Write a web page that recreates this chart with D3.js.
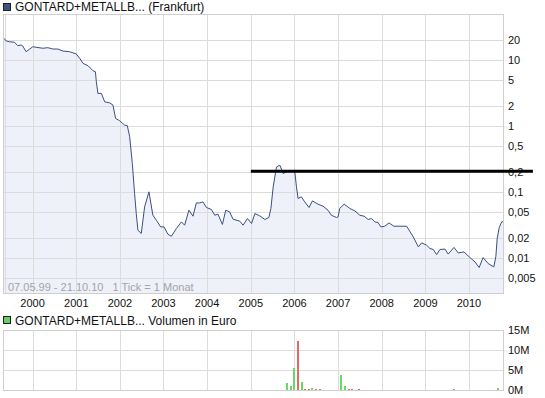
<!DOCTYPE html>
<html>
<head>
<meta charset="utf-8">
<style>
    body { margin: 0; background: #fff; }
    svg { display: block; font-family: Arial, "Liberation Sans", sans-serif; }
    .grid line { stroke: #dcdcdc; shape-rendering: crispEdges; }
    .tick-label { font-size: 11px; fill: #111; }
    .title { font-size: 12px; fill: #111; }
</style>
</head>
<body>
<svg width="545" height="398"></svg>
<script src="https://d3js.org/d3.v7.min.js"></script>
<script>
// price (EUR, Frankfurt)
const priceDates = [
    "1999-05-07","1999-05-26","1999-06-22","1999-08-03","1999-08-30","1999-09-27","1999-10-11","1999-11-08","1999-12-06",
    "2000-01-03","2000-03-27","2000-05-08","2000-06-19","2000-07-31","2000-09-11","2000-11-06",
    "2001-01-01","2001-01-29","2001-02-26","2001-04-09","2001-05-21","2001-06-10","2001-06-18","2001-07-01","2001-07-30",
    "2001-08-27","2001-10-07","2001-11-04","2001-11-26","2001-12-30",
    "2002-02-10","2002-03-04","2002-03-24","2002-04-15","2002-05-04","2002-05-18","2002-06-01","2002-06-29","2002-07-27",
    "2002-09-01","2002-10-04","2002-11-02","2002-12-08",
    "2003-01-05","2003-02-07","2003-03-08","2003-04-19","2003-05-31","2003-06-27","2003-08-02","2003-09-05","2003-10-03",
    "2003-10-30","2003-11-27","2003-12-26",
    "2004-02-06","2004-03-05","2004-04-01","2004-05-08","2004-06-05","2004-07-08","2004-08-05","2004-10-01","2004-10-28","2004-12-04",
    "2005-01-07","2005-02-04","2005-03-17","2005-04-28","2005-06-01","2005-06-18","2005-07-07","2005-08-04","2005-09-01",
    "2005-09-28","2005-11-09",
    "2006-01-04","2006-01-18","2006-01-31","2006-02-28","2006-03-28","2006-05-03","2006-06-01","2006-07-17","2006-08-28",
    "2006-10-09","2006-11-06","2006-12-18",
    "2007-01-01","2007-01-15","2007-02-21","2007-04-10","2007-05-21","2007-07-02","2007-08-07","2007-09-10","2007-10-08",
    "2007-11-05","2007-12-02","2007-12-25",
    "2008-01-27","2008-03-03","2008-04-12","2008-07-28","2008-09-22","2008-11-03","2008-12-01",
    "2009-01-11","2009-02-08","2009-03-08","2009-04-05","2009-05-03","2009-06-14","2009-07-11","2009-08-28","2009-10-03","2009-11-20",
    "2010-01-09","2010-02-20","2010-03-27","2010-04-29","2010-06-10","2010-07-28","2010-08-14","2010-08-25","2010-09-11","2010-10-01",
    "2010-10-21"
];
const priceValues = [
    21.2, 19.3, 18.8, 18.5, 16.4, 16.8, 16.2, 13.3, 14.5,
    15.8, 15.0, 15.3, 14.6, 14.6, 13.6, 13.3,
    12.3, 10.6, 8.87, 8.16, 6.85, 6.62, 4.67, 3.11, 3.11,
    2.32, 2.24, 2.07, 1.30, 1.20,
    1.03, 1.01, 0.686, 0.271, 0.0951, 0.0473, 0.0264, 0.0236, 0.0596,
    0.1007, 0.0446, 0.0375, 0.0297,
    0.0297, 0.0230, 0.0214, 0.0281, 0.0353, 0.0315, 0.0531, 0.0431, 0.0685,
    0.0685, 0.0709, 0.0584,
    0.0545, 0.0446, 0.0462, 0.0323, 0.0531, 0.0500, 0.0388, 0.0362, 0.0315, 0.0397,
    0.0334, 0.0473, 0.0436, 0.0384, 0.0412, 0.0564, 0.1197, 0.240, 0.255,
    0.191, 0.207,
    0.202, 0.1197, 0.0800, 0.0846, 0.0709, 0.0584, 0.0734, 0.0655, 0.0611,
    0.0531, 0.0446, 0.0412,
    0.0421, 0.0564, 0.0655, 0.0564, 0.0519, 0.0446, 0.0431, 0.0384, 0.0397,
    0.0353, 0.0346, 0.0297,
    0.0304, 0.0341, 0.0304, 0.0304, 0.0209, 0.0148, 0.0170,
    0.0157, 0.0140, 0.0135, 0.0113, 0.0135, 0.0137, 0.0115, 0.0145, 0.0120, 0.0124,
    0.0102, 0.00875, 0.00720, 0.0102, 0.00828, 0.00735, 0.0107, 0.0198, 0.0290, 0.0353,
    0.0360
];

// volume in million euro, "up" = green, "down" = red
const volDates = [
    "2005-10-28","2005-12-03","2005-12-26","2006-01-29","2006-03-06","2006-03-31","2006-05-04","2006-05-29",
    "2006-07-01","2006-08-04","2007-01-23","2007-02-28","2007-04-05","2007-04-27","2007-06-28","2009-08-29","2010-09-01"
];
const volValues = [1.8, 1.0, 5.6, 12.3, 2.1, 0.3, 0.3, 0.6, 0.3, 0.3, 3.8, 1.1, 0.3, 0.3, 0.3, 0.3, 0.6];
const volDir = ["up","up","up","down","up","down","down","up","down","down","up","up","down","down","down","up","up"];

// drawn resistance line
const markDates = ["2005-01-01", "2011-06-20"];
const markValue = 0.207;

const priceTicks = [20, 10, 5, 2, 1, 0.5, 0.2, 0.1, 0.05, 0.02, 0.01, 0.005];
const priceTickLabels = ["20","10","5","2","1","0,5","0,2","0,1","0,05","0,02","0,01","0,005"];
const volTicks = [0, 5, 10, 15];
const volTickLabels = ["0M","5M","10M","15M"];
const yearTicks = [2000,2001,2002,2003,2004,2005,2006,2007,2008,2009,2010];

const parse = d3.timeParse("%Y-%m-%d");
const svg = d3.select("svg");

const main = {left: 3, right: 503, top: 14, bottom: 293};
const vol = {left: 3, right: 503, top: 330, bottom: 390};

let x = d3.scaleTime()
    .domain([new Date(1999, 4, 7), new Date(2010, 9, 21)])
    .range([4, 504]);

let y = d3.scaleLog()
    .domain([0.005, 20])
    .range([278, 40]);

let yv = d3.scaleLinear()
    .domain([0, 15])
    .range([vol.bottom, vol.top]);

let prices = priceDates.map((d, i) => ({date: parse(d), value: priceValues[i]}));
let volumes = volDates.map((d, i) => ({date: parse(d), value: volValues[i], dir: volDir[i]}));

// ---- main panel
svg.append("rect")
    .attr("x", main.left + 0.5).attr("y", main.top + 0.5)
    .attr("width", main.right - main.left).attr("height", main.bottom - main.top)
    .attr("fill", "#fff")

svg.append("defs").append("clipPath").attr("id", "clip")
    .append("rect")
    .attr("x", main.left).attr("y", main.top)
    .attr("width", main.right - main.left).attr("height", main.bottom - main.top)

let area = d3.area()
    .x(d => x(d.date))
    .y0(main.bottom)
    .y1(d => y(d.value))

svg.append("path")
    .datum(prices)
    .attr("clip-path", "url(#clip)")
    .attr("fill", "#eef1fa")
    .attr("d", area)

let grid = svg.append("g").attr("class", "grid")

grid.selectAll(".hy")
    .data(priceTicks)
    .join("line")
    .attr("x1", main.left).attr("x2", main.right)
    .attr("y1", d => Math.round(y(d)) + 0.5)
    .attr("y2", d => Math.round(y(d)) + 0.5)

grid.selectAll(".vx")
    .data(yearTicks)
    .join("line")
    .attr("x1", d => Math.round(x(new Date(d, 0, 1))) + 0.5)
    .attr("x2", d => Math.round(x(new Date(d, 0, 1))) + 0.5)
    .attr("y1", main.top).attr("y2", main.bottom)

// second line at the start of the data
grid.append("line")
    .attr("x1", main.left + 2.5).attr("x2", main.left + 2.5)
    .attr("y1", main.top).attr("y2", main.bottom)

let line = d3.line()
    .x(d => x(d.date))
    .y(d => y(d.value))

svg.append("path")
    .datum(prices)
    .attr("clip-path", "url(#clip)")
    .attr("fill", "none")
    .attr("stroke", "#3b4f80")
    .attr("stroke-width", 1)
    .attr("d", line)

svg.append("rect")
    .attr("x", main.left + 0.5).attr("y", main.top + 0.5)
    .attr("width", main.right - main.left).attr("height", main.bottom - main.top)
    .attr("fill", "none")
    .attr("stroke", "#cfcfcf")
    .attr("shape-rendering", "crispEdges")

svg.selectAll(".plabel")
    .data(priceTicks)
    .join("text")
    .attr("class", "tick-label")
    .attr("x", main.right + 5)
    .attr("y", d => y(d) + 4)
    .text((d, i) => priceTickLabels[i])

svg.selectAll(".xlabel")
    .data(yearTicks)
    .join("text")
    .attr("class", "tick-label")
    .attr("x", d => x(new Date(d, 0, 1)))
    .attr("y", 307)
    .attr("text-anchor", "middle")
    .text(d => d)

svg.append("text")
    .attr("x", 8).attr("y", 291)
    .attr("font-size", "11px")
    .attr("fill", "#a4a4a4")
    .attr("xml:space", "preserve")
    .text("07.05.99 - 21.10.10   1 Tick = 1 Monat")

// title
svg.append("rect")
    .attr("x", 3.5).attr("y", 3.5).attr("width", 7).attr("height", 7)
    .attr("fill", "#3f5382").attr("stroke", "#222")
svg.append("text")
    .attr("class", "title")
    .attr("x", 15).attr("y", 11)
    .text("GONTARD+METALLB... (Frankfurt)")

// resistance line
svg.append("line")
    .attr("x1", x(parse(markDates[0]))).attr("x2", x(parse(markDates[1])))
    .attr("y1", y(markValue)).attr("y2", y(markValue))
    .attr("stroke", "#000")
    .attr("stroke-width", 3)

// ---- volume panel
svg.append("rect")
    .attr("x", 3.5).attr("y", 316.5).attr("width", 7).attr("height", 7)
    .attr("fill", "#66cc66").attr("stroke", "#222")
svg.append("text")
    .attr("class", "title")
    .attr("x", 15).attr("y", 325)
    .text("GONTARD+METALLB... Volumen in Euro")

let vgrid = svg.append("g").attr("class", "grid")

vgrid.selectAll(".hv")
    .data(volTicks)
    .join("line")
    .attr("x1", vol.left).attr("x2", vol.right)
    .attr("y1", d => Math.round(yv(d)) + 0.5)
    .attr("y2", d => Math.round(yv(d)) + 0.5)

vgrid.selectAll(".vv")
    .data(yearTicks)
    .join("line")
    .attr("x1", d => Math.round(x(new Date(d, 0, 1))) + 0.5)
    .attr("x2", d => Math.round(x(new Date(d, 0, 1))) + 0.5)
    .attr("y1", vol.top).attr("y2", vol.bottom)

svg.append("rect")
    .attr("x", vol.left + 0.5).attr("y", vol.top + 0.5)
    .attr("width", vol.right - vol.left).attr("height", vol.bottom - vol.top)
    .attr("fill", "none")
    .attr("stroke", "#cfcfcf")
    .attr("shape-rendering", "crispEdges")

svg.selectAll(".bar")
    .data(volumes)
    .join("rect")
    .attr("x", d => Math.round(x(d.date)) - 1)
    .attr("width", 2)
    .attr("y", d => Math.min(yv(d.value), vol.bottom - 1))
    .attr("height", d => Math.max(vol.bottom - yv(d.value), 1))
    .attr("fill", d => d.dir == "up" ? "#66d966" : "#e06868")
    .attr("shape-rendering", "crispEdges")

svg.selectAll(".vlabel")
    .data(volTicks)
    .join("text")
    .attr("class", "tick-label")
    .attr("x", vol.right + 5)
    .attr("y", d => yv(d) + 4)
    .text((d, i) => volTickLabels[i])
</script>
</body>
</html>
